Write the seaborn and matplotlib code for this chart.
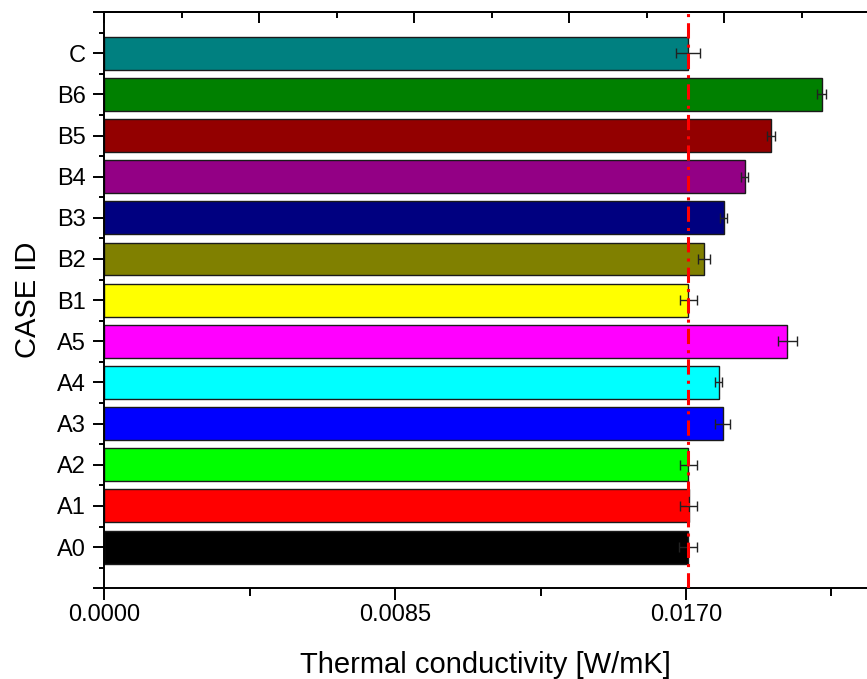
import numpy as np
import pandas as pd
import seaborn as sns
import matplotlib.pyplot as plt

# Values (top to bottom)
cases = ["C", "B6", "B5", "B4", "B3", "B2", "B1", "A5", "A4", "A3", "A2", "A1", "A0"]
conductivity = [0.01706, 0.02097, 0.01948, 0.01872, 0.01810, 0.01753, 0.01707,
                0.01996, 0.01796, 0.01808, 0.01707, 0.01708, 0.01706]
errors = [0.00035, 0.00013, 0.00012, 0.00010, 0.00011, 0.00017, 0.00025,
          0.00027, 0.00010, 0.00022, 0.00025, 0.00025, 0.00025]
colors = ["#008080", "#008000", "#930000", "#930085", "#000080", "#808000", "#FFFF00",
          "#FF00FF", "#00FFFF", "#0000FF", "#00FF00", "#FF0000", "#000000"]
reference = 0.01707

x_ticks = [0.0, 0.0085, 0.0170]
x_tick_labels = ["0.0000", "0.0085", "0.0170"]

df = pd.DataFrame({"case": cases, "k": conductivity, "err": errors})

sns.set_style("ticks", {"axes.edgecolor": "black", "xtick.color": "black",
                        "ytick.color": "black", "text.color": "black",
                        "axes.labelcolor": "black"})
plt.rcParams["font.family"] = ["Liberation Sans", "DejaVu Sans"]

fig = plt.figure(figsize=(8.67, 6.79), dpi=100)
ax = fig.add_axes([0.1203, 0.1336, 1 - 0.1203, 0.9823 - 0.1336])

sns.barplot(data=df, x="k", y="case", hue="case", order=cases, hue_order=cases,
            palette=colors, saturation=1, legend=False, orient="h", width=0.8,
            edgecolor="#1a1a1a", linewidth=1.0, ax=ax)

pos = np.arange(len(cases))
ax.errorbar(df["k"], pos, xerr=df["err"], fmt="none", ecolor="#222222",
            elinewidth=1.0, capsize=3.5, capthick=1.0, zorder=5)

ax.axvline(reference, color="red", linestyle=(0, (5, 2, 1, 2)), linewidth=2.2, zorder=6)

# axes limits and ticks
ax.set_xlim(0, 0.02229)
ax.set_ylim(len(cases), -1)
ax.set_xticks(x_ticks)
ax.set_xticklabels(x_tick_labels)
ax.set_xticks([0.00425, 0.01275, 0.02125], minor=True)
ax.set_yticks(np.arange(-1, len(cases) + 1))
ax.set_yticklabels([""] + cases + [""])
ax.set_yticks(np.arange(-0.5, len(cases), 1.0), minor=True)

ax.tick_params(axis="both", which="major", direction="out", width=1.4, labelsize=17)
ax.tick_params(axis="x", which="major", length=8.5, pad=3)
ax.tick_params(axis="x", which="minor", direction="out", length=5.5, width=1.4)
ax.tick_params(axis="y", which="major", length=8, pad=5)
ax.tick_params(axis="y", which="minor", direction="out", length=3.5, width=1.4)

for side in ["left", "bottom", "top"]:
    ax.spines[side].set_linewidth(1.4)
ax.spines["right"].set_visible(False)
ax.spines["top"].set_visible(True)

# top axis with its own inward ticks
top = ax.secondary_xaxis("top")
top.set_xticks([0.0, 0.00453, 0.00906, 0.01359, 0.01812])
top.set_xticks([0.002265, 0.006795, 0.011325, 0.015855, 0.020385], minor=True)
top.tick_params(which="major", direction="in", length=8, width=1.4, labeltop=False)
top.tick_params(which="minor", direction="in", length=4, width=1.4)
top.spines["top"].set_linewidth(1.4)

ax.set_xlabel("Thermal conductivity [W/mK]", fontsize=21, labelpad=18)
ax.set_ylabel("CASE ID", fontsize=21, labelpad=11)

fig.savefig("out.png", dpi=100)
